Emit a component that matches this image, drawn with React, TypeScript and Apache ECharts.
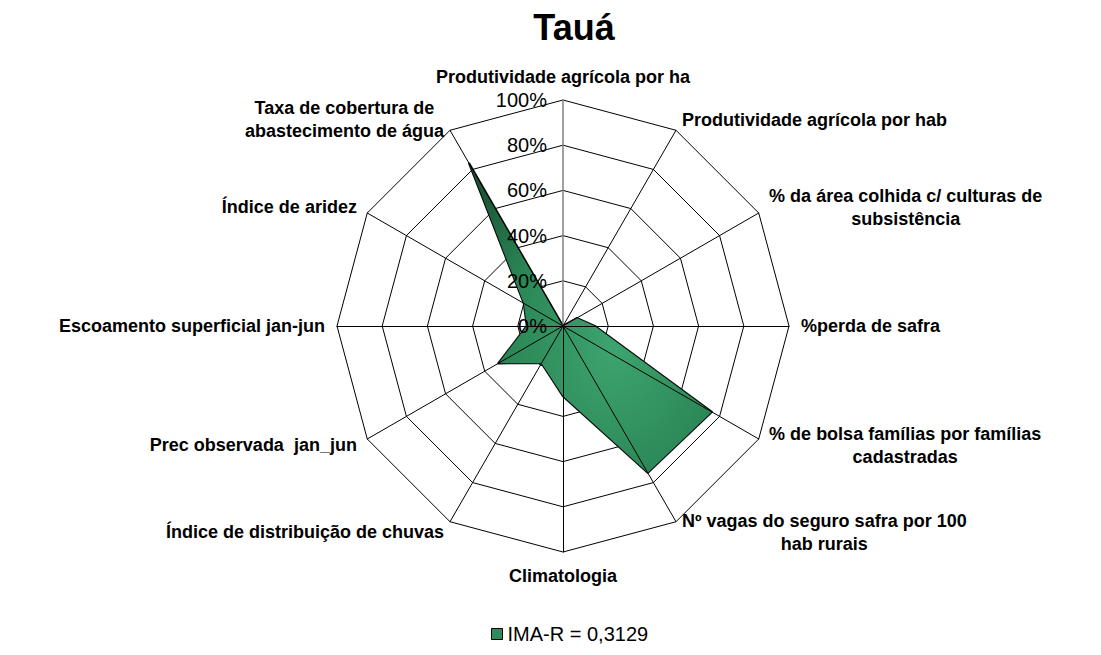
import React, { useEffect, useRef } from 'react';
import * as echarts from 'echarts';

const chartTitle = 'Tauá';
// axis names, clockwise from the top (as in the reference)
const categories = [
  'Produtividade agrícola por ha',
  'Produtividade agrícola por hab',
  '% da área colhida c/ culturas de\nsubsistência',
  '%perda de safra',
  '% de bolsa famílias por famílias\ncadastradas',
  'Nº vagas do seguro safra por 100\nhab rurais',
  'Climatologia',
  'Índice de distribuição de chuvas',
  'Prec observada  jan_jun',
  'Escoamento superficial jan-jun',
  'Índice de aridez',
  'Taxa de cobertura de\nabastecimento de água',
];
// values (0..1), same order as categories
const values = [0, 0, 0.07, 0.14, 0.76, 0.75, 0.31, 0.19, 0.33, 0.16, 0.2, 0.83];
const seriesName = 'IMA-R = 0,3129';
const axisMin = 0;
const axisMax = 1;
const axisSplits = 5;

const FONT = 'Liberation Sans, Arial, sans-serif';

export default function App() {
  const ref = useRef<HTMLDivElement>(null);

  useEffect(() => {
    if (!ref.current) return;
    const chart = echarts.init(ref.current, undefined, { renderer: 'svg' });

    // ECharts places radar indicators counter-clockwise; reorder to get clockwise
    const n = categories.length;
    const order = [0, ...Array.from({ length: n - 1 }, (_, i) => n - 1 - i)];
    const cats = order.map((i) => categories[i]);
    const vals = order.map((i) => values[i]);

    const baseRadar = {
      center: [563, 326],
      radius: 226,
      startAngle: 90,
      splitNumber: axisSplits,
      shape: 'polygon',
    };

    const option: any = {
      animation: false,
      backgroundColor: '#ffffff',
      title: {
        text: chartTitle,
        left: 574,
        top: 0,
        textAlign: 'center',
        padding: [9, 0, 0, 0],
        textStyle: { fontFamily: FONT, fontWeight: 'bold', fontSize: 36, color: '#000' },
      },
      legend: {
        left: 486,
        top: 619,
        padding: 5,
        icon: 'rect',
        itemWidth: 11,
        itemHeight: 11,
        itemGap: 10,
        data: [seriesName],
        itemStyle: { color: '#2f8a5c', borderColor: '#000', borderWidth: 1 },
        textStyle: { fontFamily: FONT, fontSize: 20, color: '#000' },
      },
      radar: [
        {
          ...baseRadar,
          z: 0,
          indicator: cats.map((c) => ({ name: c, min: axisMin, max: axisMax })),
          nameGap: 12,
          axisName: {
            color: '#000',
            formatter: (name: string) =>
              name
                .split('\n')
                .map((l) => `{n|${l}}`)
                .join('\n'),
            rich: {
              n: {
                fontFamily: FONT,
                fontWeight: 'bold',
                fontSize: 18,
                lineHeight: 23,
                align: 'center',
                color: '#000',
              },
            },
          },
          axisLine: { show: false },
          axisTick: { show: false },
          axisLabel: { show: false },
          splitLine: { show: true, lineStyle: { color: '#000', width: 1 } },
          splitArea: { show: false },
        },
        {
          ...baseRadar,
          z: 5,
          indicator: cats.map((_, i) =>
            i === 0
              ? {
                  name: '',
                  min: axisMin,
                  max: axisMax,
                  axisLine: { lineStyle: { color: '#808080', width: 1.5 } },
                  axisLabel: {
                    show: true,
                    margin: 16,
                    fontFamily: FONT,
                    fontSize: 20,
                    color: '#000',
                    formatter: (v: number) => `${Math.round(v * 100)}%`,
                  },
                }
              : { name: '', min: axisMin, max: axisMax }
          ),
          axisName: { show: false },
          axisLine: { show: true, lineStyle: { color: '#000', width: 1 } },
          axisTick: { show: false },
          axisLabel: { show: false },
          splitLine: { show: false },
          splitArea: { show: false },
        },
      ],
      series: [
        {
          type: 'radar',
          radarIndex: 0,
          name: seriesName,
          symbol: 'none',
          z: 2,
          itemStyle: { color: '#2f8a5c' },
          lineStyle: { color: '#0a0a0a', width: 2.2 },
          areaStyle: {
            opacity: 1,
            color: new echarts.graphic.RadialGradient(0.6, 0.6, 0.75, [
              { offset: 0, color: '#3da46f' },
              { offset: 0.6, color: '#2b8656' },
              { offset: 1, color: '#1b5636' },
            ]),
          },
          data: [{ value: vals, name: seriesName }],
        },
      ],
    };

    chart.setOption(option);
    return () => chart.dispose();
  }, []);

  return (
    <div
      ref={ref}
      style={{ position: 'fixed', left: 0, top: 0, width: 1101, height: 655, background: '#fff' }}
    />
  );
}
